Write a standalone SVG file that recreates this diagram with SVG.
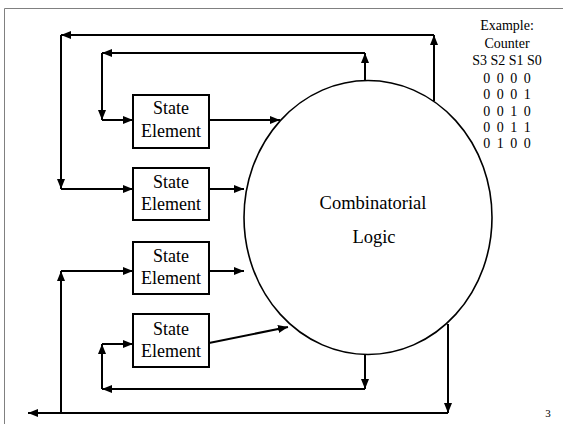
<svg xmlns="http://www.w3.org/2000/svg" width="563" height="424" viewBox="0 0 563 424">
<style>
.frame{fill:none;stroke:#808080;stroke-width:1}
.box{fill:#fff;stroke:#000;stroke-width:2}
.ell{fill:#fff;stroke:#000;stroke-width:1.6}
.ln{fill:none;stroke:#000;stroke-width:2}
.t{font-family:"Liberation Serif","Times New Roman",serif;fill:#000;text-anchor:middle}
.bt{font-size:18px}
.tab{font-size:14px}
</style>
<defs>
<marker id="ah" markerUnits="userSpaceOnUse" markerWidth="11" markerHeight="9" refX="10" refY="4" orient="auto">
<path d="M0,0 L10,4 L0,8 z" fill="#000"/>
</marker>
</defs>
<rect width="563" height="424" fill="#fff"/>
<path class="frame" d="M4.5,424 V8.5 H563"/>
<g id="logic">
<ellipse class="ell" cx="368" cy="217.5" rx="124" ry="137"/>
<text class="t" x="373" y="209" font-size="18.5">Combinatorial</text>
<text class="t" x="374" y="243" font-size="18.5">Logic</text>
</g>
<g id="se1">
<rect class="box" x="133" y="95" width="76" height="53"/>
<text class="t bt" x="171" y="114">State</text>
<text class="t bt" x="171" y="137">Element</text>
</g>
<g id="se2">
<rect class="box" x="133" y="168" width="76" height="52"/>
<text class="t bt" x="171" y="188">State</text>
<text class="t bt" x="171" y="210">Element</text>
</g>
<g id="se3">
<rect class="box" x="133" y="242" width="76" height="52"/>
<text class="t bt" x="171" y="262">State</text>
<text class="t bt" x="171" y="284">Element</text>
</g>
<g id="se4">
<rect class="box" x="133" y="314" width="76" height="53"/>
<text class="t bt" x="171" y="335">State</text>
<text class="t bt" x="171" y="357">Element</text>
</g>
<g id="connectors">
<!-- outputs of state elements to logic -->
<line class="ln" x1="209" y1="120" x2="280" y2="120" marker-end="url(#ah)"/>
<line class="ln" x1="209" y1="189" x2="244" y2="189" marker-end="url(#ah)"/>
<line class="ln" x1="209" y1="271" x2="244" y2="271" marker-end="url(#ah)"/>
<line class="ln" x1="209" y1="343" x2="288" y2="327" marker-end="url(#ah)"/>
<!-- top outer loop -->
<line class="ln" x1="434" y1="101" x2="434" y2="35" marker-end="url(#ah)"/>
<line class="ln" x1="434" y1="35" x2="61" y2="35" marker-end="url(#ah)"/>
<line class="ln" x1="61" y1="35" x2="61" y2="189" marker-end="url(#ah)"/>
<line class="ln" x1="61" y1="189" x2="133" y2="189" marker-end="url(#ah)"/>
<!-- top inner loop -->
<line class="ln" x1="365" y1="81" x2="365" y2="53" marker-end="url(#ah)"/>
<line class="ln" x1="365" y1="53" x2="102" y2="53" marker-end="url(#ah)"/>
<line class="ln" x1="102" y1="53" x2="102" y2="120" marker-end="url(#ah)"/>
<line class="ln" x1="102" y1="120" x2="133" y2="120" marker-end="url(#ah)"/>
<!-- bottom inner loop -->
<line class="ln" x1="365" y1="354" x2="365" y2="389" marker-end="url(#ah)"/>
<line class="ln" x1="365" y1="389" x2="102" y2="389" marker-end="url(#ah)"/>
<line class="ln" x1="102" y1="389" x2="102" y2="344" marker-end="url(#ah)"/>
<line class="ln" x1="102" y1="344" x2="133" y2="344" marker-end="url(#ah)"/>
<!-- bottom outer loop -->
<line class="ln" x1="448" y1="324" x2="448" y2="413" marker-end="url(#ah)"/>
<line class="ln" x1="448" y1="413" x2="28" y2="413" marker-end="url(#ah)"/>
<line class="ln" x1="61" y1="413" x2="61" y2="271" marker-end="url(#ah)"/>
<line class="ln" x1="61" y1="271" x2="133" y2="271" marker-end="url(#ah)"/>
</g>
<g id="example">
<text class="t tab" x="507" y="30">Example:</text>
<text class="t tab" x="507" y="48">Counter</text>
<text class="t tab" x="507" y="65">S3 S2 S1 S0</text>
<text class="t tab" x="507" y="83" word-spacing="3">0 0 0 0</text>
<text class="t tab" x="507" y="99" word-spacing="3">0 0 0 1</text>
<text class="t tab" x="507" y="116" word-spacing="3">0 0 1 0</text>
<text class="t tab" x="507" y="132" word-spacing="3">0 0 1 1</text>
<text class="t tab" x="507" y="148" word-spacing="3">0 1 0 0</text>
</g>
<text class="t" x="548" y="417" font-size="11">3</text>
</svg>
